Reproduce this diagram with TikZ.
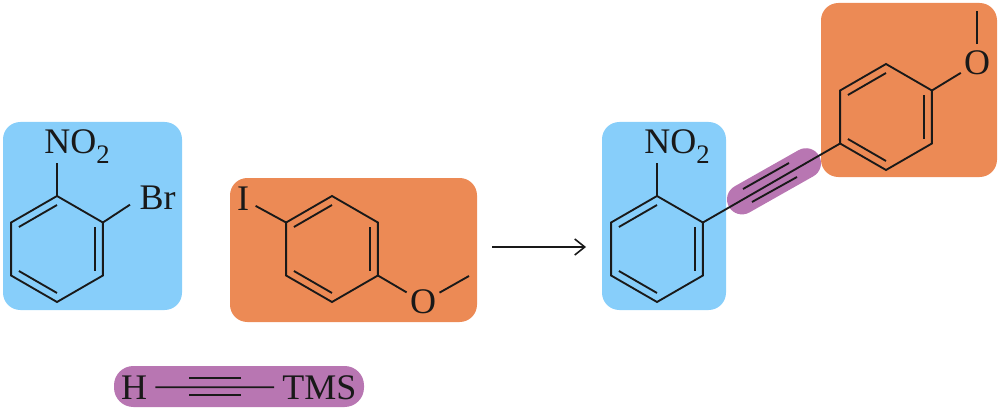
\documentclass[tikz,border=0pt]{standalone}
\usepackage{fontspec}
\setmainfont{Liberation Serif}
\usetikzlibrary{calc,arrows.meta}
\definecolor{azulcaja}{HTML}{87CEFA}
\definecolor{naranjacaja}{HTML}{EC8A55}
\definecolor{moradocaja}{HTML}{B876B2}
\tikzset{
  enlace/.style={line width=1.4pt,black!90},
  caja/.style={rounded corners=13pt},
  atomo/.style={font=\fontsize{27}{30}\selectfont,text=black!90,inner sep=0pt},
  atomoc/.style={atomo,circle,inner sep=0.5pt}
}
\newcommand{\subdos}{\raisebox{-7.5pt}{\fontsize{20}{22}\selectfont 2}}
% Anillo: nombre, centro
\newcommand{\anillo}[3]{
  \coordinate (#1o) at (#2,#3);
  \foreach \v/\ang in {a/270,b/330,c/30,d/90,e/150,f/210}
    \coordinate (#1\v) at ($(#1o)+(\ang:53)$);
  \draw[enlace] (#1a) -- (#1b) -- (#1c) -- (#1d) -- (#1e) -- (#1f) -- cycle;
  \foreach \p/\q in {f/a,b/c,e/d}
    \draw[enlace] ($(#1o)!0.83!(#1\p)$) -- ($(#1o)!0.83!(#1\q)$);
}
\begin{document}
\begin{tikzpicture}[x=0.75pt,y=-0.75pt]
  \useasboundingbox (0,0) rectangle (1000,410);

  % Cajas
  \fill[azulcaja,caja] (3,122) rectangle (182,310);
  \fill[naranjacaja,caja] (230,178) rectangle (477,322);
  \fill[moradocaja,rounded corners=14.5pt] (114,366) rectangle (364,407);
  \fill[azulcaja,caja] (602,122) rectangle (726,310);
  \fill[naranjacaja,caja] (821,3) rectangle (997,177);

  % Bromuro
  \anillo{p}{57}{249}
  \node[atomo,anchor=base west] (nop) at (44,153) {NO\subdos};
  \node[atomo,anchor=base west,inner sep=7pt] (br) at (130,209) {Br};
  \draw[enlace] (pa) -- (pa |- nop.south);
  \draw[enlace] (pb) -- (br.195);

  % Yoduro
  \anillo{q}{332}{249}
  \node[atomoc] (yodo) at (243,199) {I};
  \node[atomoc] (oq) at (423,302) {O};
  \coordinate (meq) at (469,276);
  \draw[enlace] (qf) -- (yodo);
  \draw[enlace] (qc) -- (oq);
  \draw[enlace] (oq) -- (meq);

  % Alquino
  \node[atomo,inner xsep=6pt,anchor=base] (hid) at (134,399) {H};
  \node[atomo,inner xsep=6pt,anchor=base] (tms) at (319.5,399) {TMS};
  \draw[enlace] (hid) -- (tms);
  \coordinate (ala) at (189,378);
  \coordinate (alb) at (241,378);
  \coordinate (alc) at (189,395);
  \coordinate (ald) at (241,395);
  \draw[enlace] (ala) -- (alb);
  \draw[enlace] (alc) -- (ald);

  % Flecha
  \coordinate (fla) at (492,247);
  \coordinate (flb) at (586,247);
  \draw[line width=1.2pt,black!90,-{Straight Barb[length=7.5pt,width=12pt]}] (fla) -- (flb);

  % Producto
  \coordinate (cpa) at (742,199.4);
  \coordinate (cpb) at (806,163.2);
  \draw[moradocaja,line width=22.5pt,line cap=round] (cpa) -- (cpb);
  \anillo{r}{657}{249}
  \anillo{s}{886}{117}
  \node[atomo,anchor=base west] (nor) at (644,153) {NO\subdos};
  \draw[enlace] (ra) -- (ra |- nor.south);
  \draw[enlace] (rb) -- (se);
  \coordinate (tra) at (743,189);
  \coordinate (trb) at (789,163);
  \coordinate (trc) at (752,202);
  \coordinate (trd) at (797,177);
  \draw[enlace] (tra) -- (trb);
  \draw[enlace] (trc) -- (trd);
  \node[atomoc] (os) at (977,63) {O};
  \coordinate (mes) at (977,11);
  \draw[enlace] (sb) -- (os);
  \draw[enlace] (os) -- (mes);
\end{tikzpicture}
\end{document}
